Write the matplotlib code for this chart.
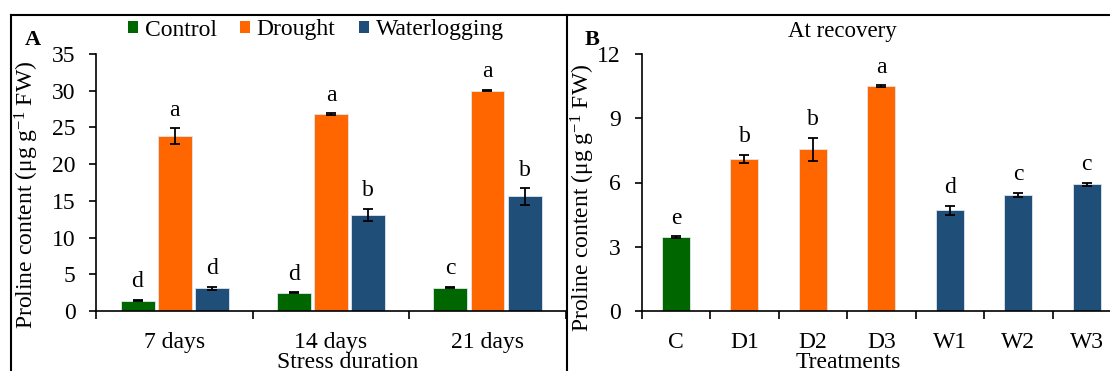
import numpy as np
import matplotlib
matplotlib.use("Agg")
import matplotlib.pyplot as plt
from matplotlib.lines import Line2D
from matplotlib.patches import Patch

plt.rcParams['font.family'] = ['Liberation Serif', 'DejaVu Serif']
plt.rcParams['mathtext.fontset'] = 'custom'
plt.rcParams['mathtext.rm'] = 'Liberation Serif'
plt.rcParams['mathtext.it'] = 'Liberation Serif:italic'

# Panel A: proline under stress
durations = ["7 days", "14 days", "21 days"]
series = ["Control", "Drought", "Waterlogging"]
control = [1.4, 2.5, 3.2]
drought = [23.8, 26.8, 30.0]
waterlog = [3.1, 13.1, 15.6]
control_err = [0.1, 0.05, 0.1]
drought_err = [1.1, 0.1, 0.1]
waterlog_err = [0.2, 0.8, 1.1]
control_sig = ["d", "d", "c"]
drought_sig = ["a", "a", "a"]
waterlog_sig = ["d", "b", "b"]

# Panel B: proline at recovery
treatments = ["C", "D1", "D2", "D3", "W1", "W2", "W3"]
recovery = [3.45, 7.1, 7.55, 10.5, 4.7, 5.42, 5.92]
recovery_err = [0.04, 0.2, 0.53, 0.03, 0.22, 0.1, 0.07]
recovery_sig = ["e", "b", "b", "a", "d", "c", "c"]

GREEN = "#006600"
ORANGE = "#FF6600"
BLUE = "#1F4E79"
colors = [GREEN, ORANGE, BLUE]
FS = 17
YLABEL = r"Proline content (μg g$^{-1}$ FW)"

fig = plt.figure(figsize=(11.1, 3.71), dpi=100)
W, H = 1110, 371


def px_axes(x0, x1, y_top, y_bot):
    return fig.add_axes([x0 / W, 1 - y_bot / H, (x1 - x0) / W, (y_bot - y_top) / H])


def style(ax):
    for s in ("top", "right"):
        ax.spines[s].set_visible(False)
    ax.spines["left"].set_linewidth(1.2)
    ax.spines["bottom"].set_linewidth(1.2)
    ax.tick_params(axis="y", direction="out", length=5, width=1.2, labelsize=FS, pad=10)
    ax.tick_params(axis="x", which="major", direction="out", length=6, width=1.2, labelbottom=False)
    ax.tick_params(axis="x", which="minor", length=0, labelsize=FS, pad=15)


def sig_label(ax, x, top, txt):
    ax.annotate(txt, (x, top), xytext=(0, 9), textcoords="offset points",
                ha="center", va="baseline", fontsize=FS)


# ---- panel A
axA = px_axes(96.4, 565.7, 54, 311)
n = len(durations)
step = 0.237
bw = 0.217
centers = np.arange(n) + 0.5
groups = [(control, control_err, control_sig), (drought, drought_err, drought_sig),
          (waterlog, waterlog_err, waterlog_sig)]
for i, (vals, errs, sigs) in enumerate(groups):
    xs = centers + (i - 1) * step
    axA.bar(xs, vals, width=bw, color=colors[i], edgecolor="#dfe6ee", linewidth=0.6,
            yerr=errs, error_kw=dict(ecolor="black", elinewidth=1.3, capsize=3.5, capthick=1.3))
    for x, v, e, s in zip(xs, vals, errs, sigs):
        sig_label(axA, x, v + e, s)
axA.set_xlim(0, n)
axA.set_ylim(0, 35)
axA.set_yticks(np.arange(0, 36, 5))
axA.set_xticks(np.arange(n + 1))
axA.set_xticks(centers, minor=True)
axA.set_xticklabels(durations, minor=True)
style(axA)
axA.set_ylabel(YLABEL, fontsize=FS)
axA.yaxis.set_label_coords(-0.118, 0.45)

# ---- panel B
axB = px_axes(641.7, 1121.0, 54, 311)
m = len(treatments)
xb = np.arange(m) + 0.5
bcolors = [GREEN] + [ORANGE] * 3 + [BLUE] * 3
axB.bar(xb, recovery, width=0.41, color=bcolors, edgecolor="#dfe6ee", linewidth=0.6,
        yerr=recovery_err, error_kw=dict(ecolor="black", elinewidth=1.3, capsize=3.5, capthick=1.3))
for x, v, e, s in zip(xb, recovery, recovery_err, recovery_sig):
    sig_label(axB, x, v + e, s)
axB.set_xlim(0, m)
axB.set_ylim(0, 12)
axB.set_yticks(np.arange(0, 13, 3))
axB.set_xticks(np.arange(m + 1))
axB.set_xticks(xb, minor=True)
axB.set_xticklabels(treatments, minor=True)
style(axB)
axB.set_ylabel(YLABEL, fontsize=FS)
axB.yaxis.set_label_coords(-0.093, 0.44)

# axis titles and panel tags
fig.text(348 / W, 1 - 352 / H, "Stress duration", ha="center", va="top", fontsize=FS)
fig.text(848 / W, 1 - 352 / H, "Treatments", ha="center", va="top", fontsize=FS)
fig.text(842 / W, 1 - 32 / H, "At recovery", ha="center", va="center", fontsize=FS - 0.5)
fig.text(33 / W, 1 - 40 / H, "A", ha="center", va="center", fontsize=FS - 1, fontweight="bold")
fig.text(592 / W, 1 - 40 / H, "B", ha="center", va="center", fontsize=FS - 1, fontweight="bold")

handles = [Patch(facecolor=c, label=s) for c, s in zip(colors, series)]
fig.legend(handles=handles, loc="center", bbox_to_anchor=(316 / W, 1 - 30 / H), ncol=3,
           frameon=False, fontsize=FS, handlelength=0.4, handleheight=0.45,
           handletextpad=0.3, columnspacing=1.0, borderpad=0)

# panel frame lines
for xs_, ys_ in [((11, W), (15, 15)), ((11, 11), (15, H)), ((567, 567), (15, H))]:
    fig.add_artist(Line2D([x / W for x in xs_], [1 - y / H for y in ys_],
                          color="black", linewidth=1.5, transform=fig.transFigure))

fig.savefig("out.png", dpi=100)
